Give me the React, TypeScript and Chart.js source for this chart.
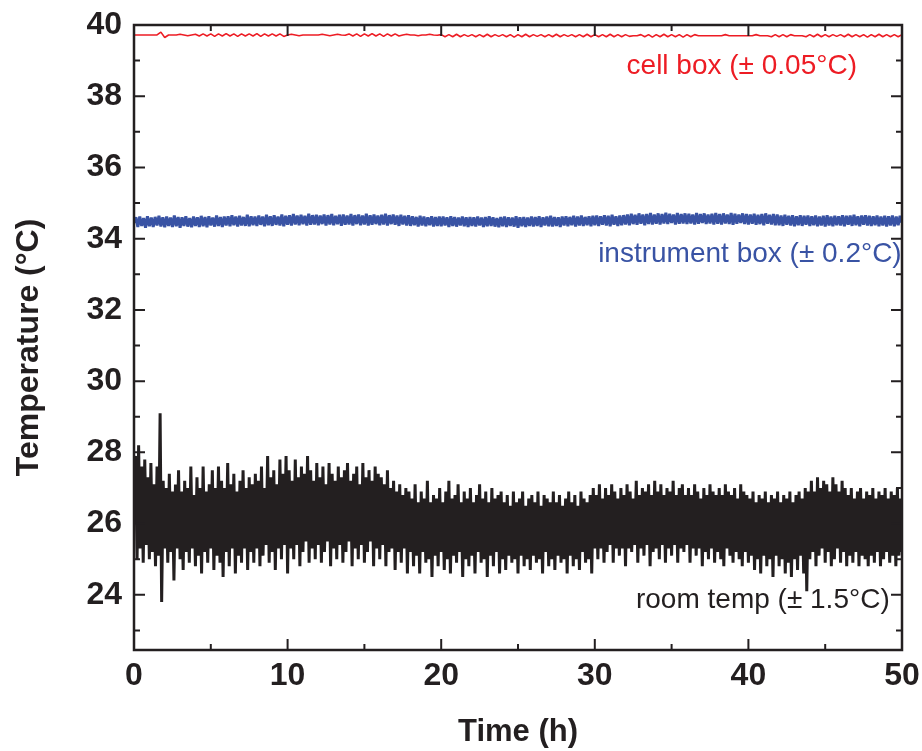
import { useEffect, useRef } from "react";
import { Chart, registerables } from "chart.js";

Chart.register(...registerables);

const INK = "#231f20";
const RED = "#ed1c24";
const BLUE = "#3953a4";
const FONT = "'Liberation Sans', Arial, Helvetica, sans-serif";

const X_MIN = 0;
const X_MAX = 50;
const Y_MIN = 22.45;
const Y_MAX = 40;
const X_MAJOR_TICKS = [0, 10, 20, 30, 40, 50];
const X_MINOR_TICKS = [5, 15, 25, 35, 45];
const Y_MAJOR_TICKS = [24, 26, 28, 30, 32, 34, 36, 38, 40];
const Y_MINOR_TICKS = [23, 25, 27, 29, 31, 33, 35, 37, 39];

// sampling intervals (hours between samples)
const ROOM_STEP_H = 0.1;
const INSTRUMENT_STEP_H = 0.125;
const CELL_STEP_H = 0.25;

// room temperature (°C), one sample every 0.1 h
const ROOM_TEMP = [
  26.2, 27.9, 25.0, 28.2, 25.3, 27.6, 24.9, 27.8, 25.4, 27.3, 25.0, 27.7, 25.2, 27.1, 24.8, 27.6, 25.1, 29.1, 23.8, 27.2,
  25.3, 27.0, 24.9, 27.4, 25.2, 26.9, 24.4, 27.1, 25.3, 27.5, 25.0, 26.9, 24.7, 27.2, 25.2, 27.0, 24.9, 27.6, 25.3, 26.8,
  24.8, 27.3, 25.1, 27.0, 24.6, 27.6, 25.2, 26.9, 24.9, 27.1, 25.3, 27.5, 24.7, 27.0, 25.1, 27.6, 24.9, 27.2, 24.5, 27.0,
  25.2, 27.7, 24.8, 27.1, 25.3, 27.4, 24.6, 26.9, 25.1, 27.2, 24.9, 27.5, 25.3, 27.0, 24.7, 27.3, 25.2, 27.1, 24.9, 27.4,
  25.3, 27.2, 24.8, 27.6, 25.1, 27.0, 25.4, 27.9, 24.9, 27.3, 25.2, 27.5, 24.7, 27.1, 25.3, 27.8, 25.0, 27.4, 25.4, 27.9,
  24.6, 27.5, 25.3, 27.2, 25.0, 27.8, 25.4, 27.3, 24.8, 27.6, 25.2, 27.4, 25.5, 27.9, 24.9, 27.5, 25.3, 27.2, 25.0, 27.7,
  25.4, 27.3, 24.9, 27.6, 25.2, 27.1, 25.5, 27.7, 24.8, 27.4, 25.3, 27.2, 25.0, 27.6, 25.4, 27.3, 24.9, 27.5, 25.2, 27.7,
  25.5, 27.2, 24.8, 27.4, 25.3, 27.6, 25.0, 27.1, 25.4, 27.7, 24.9, 27.3, 25.2, 27.5, 25.5, 27.2, 24.8, 27.6, 25.3, 27.4,
  25.0, 27.3, 25.4, 27.1, 24.8, 27.5, 25.2, 27.0, 25.3, 27.2, 24.7, 26.9, 25.2, 27.1, 24.9, 26.8, 25.3, 27.0, 24.6, 26.9,
  25.2, 26.7, 24.8, 27.1, 25.1, 26.6, 24.6, 26.9, 25.2, 26.7, 24.9, 27.2, 25.0, 26.6, 24.5, 26.8, 25.1, 26.7, 24.8, 27.0,
  25.2, 26.6, 24.7, 26.9, 25.0, 27.2, 24.6, 26.7, 25.1, 26.8, 24.9, 27.1, 25.2, 26.6, 24.5, 26.9, 25.0, 26.7, 24.8, 27.0,
  25.1, 26.6, 24.6, 26.8, 25.2, 27.1, 24.9, 26.7, 25.0, 26.9, 24.5, 26.6, 25.1, 27.0, 24.8, 26.7, 25.2, 26.8, 24.6, 26.9,
  25.0, 26.6, 24.7, 26.8, 25.1, 26.5, 24.9, 26.9, 25.0, 26.6, 24.6, 26.7, 25.1, 26.9, 24.8, 26.5, 25.0, 26.7, 24.7, 26.8,
  25.1, 26.6, 24.9, 26.9, 25.0, 26.5, 24.6, 26.8, 25.2, 26.7, 24.8, 26.6, 25.0, 26.9, 24.7, 26.6, 25.1, 26.8, 24.9, 26.5,
  25.0, 26.7, 24.6, 26.9, 25.1, 26.6, 24.8, 26.8, 25.0, 26.5, 24.7, 26.9, 25.2, 26.7, 24.9, 26.6, 25.0, 26.8, 24.6, 27.0,
  25.3, 26.8, 25.0, 27.1, 25.3, 26.7, 24.9, 27.0, 25.2, 26.8, 25.4, 27.1, 24.9, 26.9, 25.3, 26.7, 25.1, 27.0, 25.3, 26.8,
  24.8, 27.1, 25.3, 26.9, 25.2, 26.7, 25.4, 27.2, 24.9, 26.8, 25.3, 27.0, 25.1, 26.9, 25.4, 27.1, 24.8, 26.8, 25.2, 27.2,
  25.3, 26.9, 25.0, 27.1, 25.4, 26.8, 24.9, 27.0, 25.3, 26.9, 25.1, 27.2, 25.4, 26.8, 24.9, 27.0, 25.3, 27.1, 25.2, 26.8,
  25.4, 27.0, 24.9, 26.8, 25.3, 27.1, 25.1, 26.9, 25.3, 26.7, 24.8, 27.0, 25.2, 26.8, 25.0, 27.1, 25.3, 26.9, 24.9, 26.8,
  25.2, 27.0, 25.0, 26.8, 24.8, 27.1, 25.3, 26.9, 25.1, 26.8, 24.9, 27.0, 25.2, 26.7, 25.0, 27.1, 24.8, 26.9, 25.2, 26.8,
  24.9, 26.7, 25.1, 26.9, 24.7, 26.6, 25.0, 26.8, 24.6, 26.7, 25.1, 26.9, 24.8, 26.6, 25.0, 26.8, 24.5, 26.7, 25.1, 26.9,
  24.8, 26.6, 25.0, 26.8, 24.6, 26.7, 24.9, 26.9, 24.5, 26.6, 25.0, 26.8, 24.7, 26.9, 25.1, 26.7, 24.6, 27.0, 24.1, 26.9,
  25.0, 27.2, 25.2, 26.9, 24.8, 27.3, 25.1, 27.0, 25.3, 27.2, 24.9, 27.1, 25.2, 26.9, 24.8, 27.3, 25.0, 27.1, 25.3, 26.9,
  24.9, 27.2, 25.2, 27.0, 24.8, 26.8, 25.1, 27.0, 24.9, 26.7, 25.2, 26.9, 24.8, 27.0, 25.1, 26.7, 25.0, 26.9, 24.8, 26.8,
  25.1, 27.0, 24.9, 26.7, 25.2, 26.9, 24.8, 26.8, 25.0, 27.0, 25.2, 26.7, 24.9, 26.9, 25.1, 26.8, 24.8, 27.0, 25.1, 26.7,
  25.2,
];

// instrument box temperature (°C), one sample every 0.125 h
const INSTRUMENT_BOX = [
  34.45, 34.60, 34.33, 34.62, 34.36, 34.58, 34.31, 34.63, 34.35, 34.59, 34.33, 34.61, 34.37, 34.64, 34.34, 34.60,
  34.32, 34.62, 34.36, 34.59, 34.33, 34.65, 34.35, 34.61, 34.31, 34.60, 34.36, 34.63, 34.34, 34.58, 34.32, 34.62,
  34.36, 34.60, 34.33, 34.64, 34.35, 34.61, 34.32, 34.63, 34.37, 34.59, 34.34, 34.65, 34.36, 34.61, 34.33, 34.62,
  34.37, 34.63, 34.35, 34.66, 34.38, 34.62, 34.34, 34.64, 34.37, 34.61, 34.36, 34.67, 34.35, 34.63, 34.38, 34.62,
  34.36, 34.65, 34.39, 34.62, 34.35, 34.67, 34.38, 34.63, 34.36, 34.66, 34.39, 34.62, 34.37, 34.68, 34.35, 34.64,
  34.39, 34.66, 34.37, 34.69, 34.40, 34.65, 34.38, 34.67, 34.41, 34.64, 34.37, 34.70, 34.39, 34.66, 34.40, 34.67,
  34.38, 34.65, 34.41, 34.68, 34.37, 34.66, 34.40, 34.69, 34.38, 34.64, 34.41, 34.67, 34.36, 34.68, 34.39, 34.65,
  34.40, 34.69, 34.37, 34.66, 34.41, 34.68, 34.38, 34.65, 34.40, 34.70, 34.37, 34.66, 34.39, 34.68, 34.41, 34.65,
  34.38, 34.67, 34.40, 34.70, 34.37, 34.66, 34.41, 34.68, 34.39, 34.65, 34.36, 34.67, 34.40, 34.64, 34.37, 34.66,
  34.36, 34.63, 34.38, 34.61, 34.34, 34.64, 34.37, 34.62, 34.35, 34.60, 34.38, 34.63, 34.34, 34.61, 34.36, 34.62,
  34.35, 34.62, 34.37, 34.60, 34.33, 34.63, 34.36, 34.61, 34.34, 34.59, 34.37, 34.62, 34.35, 34.60, 34.33, 34.61,
  34.36, 34.60, 34.34, 34.62, 34.37, 34.59, 34.33, 34.61, 34.35, 34.63, 34.36, 34.60, 34.34, 34.58, 34.32, 34.61,
  34.35, 34.62, 34.33, 34.60, 34.36, 34.59, 34.34, 34.63, 34.31, 34.60, 34.35, 34.61, 34.33, 34.59, 34.36, 34.62,
  34.34, 34.61, 34.36, 34.63, 34.33, 34.60, 34.37, 34.62, 34.35, 34.64, 34.34, 34.61, 34.36, 34.60, 34.33, 34.62,
  34.37, 34.63, 34.35, 34.61, 34.38, 34.64, 34.34, 34.62, 34.37, 34.65, 34.36, 34.61, 34.38, 34.63, 34.35, 34.64,
  34.38, 34.65, 34.36, 34.63, 34.39, 34.66, 34.37, 34.64, 34.35, 34.67, 34.39, 34.63, 34.36, 34.65, 34.38, 34.66,
  34.40, 34.68, 34.38, 34.70, 34.41, 34.67, 34.39, 34.71, 34.42, 34.68, 34.38, 34.69, 34.41, 34.72, 34.40, 34.68,
  34.42, 34.71, 34.40, 34.69, 34.43, 34.73, 34.41, 34.70, 34.44, 34.68, 34.40, 34.72, 34.42, 34.69, 34.43, 34.71,
  34.41, 34.70, 34.43, 34.68, 34.40, 34.72, 34.42, 34.69, 34.44, 34.71, 34.41, 34.68, 34.43, 34.70, 34.40, 34.72,
  34.42, 34.69, 34.40, 34.71, 34.43, 34.68, 34.41, 34.72, 34.39, 34.70, 34.42, 34.68, 34.44, 34.71, 34.41, 34.69,
  34.40, 34.68, 34.42, 34.70, 34.39, 34.67, 34.41, 34.69, 34.38, 34.71, 34.42, 34.67, 34.40, 34.69, 34.38, 34.68,
  34.38, 34.65, 34.36, 34.67, 34.39, 34.64, 34.37, 34.66, 34.35, 34.63, 34.38, 34.66, 34.36, 34.64, 34.39, 34.65,
  34.36, 34.63, 34.38, 34.65, 34.35, 34.62, 34.37, 34.64, 34.34, 34.66, 34.37, 34.62, 34.35, 34.64, 34.38, 34.63,
  34.37, 34.66, 34.35, 34.64, 34.39, 34.65, 34.36, 34.67, 34.38, 34.63, 34.35, 34.65, 34.39, 34.66, 34.37, 34.64,
  34.36, 34.63, 34.38, 34.65, 34.35, 34.62, 34.37, 34.64, 34.34, 34.63, 34.37, 34.65, 34.35, 34.62, 34.38, 34.64,
  34.45,
];

// cell box temperature (°C), one sample every 0.25 h
const CELL_BOX = [
  39.72, 39.72, 39.72, 39.72, 39.72, 39.72, 39.72, 39.80, 39.65, 39.72, 39.72, 39.72,
  39.74, 39.72, 39.70, 39.72, 39.74,
  39.69, 39.75, 39.69, 39.75, 39.68, 39.75, 39.69, 39.76, 39.69, 39.75, 39.68, 39.75, 39.69, 39.75, 39.69, 39.76,
  39.68, 39.75, 39.69, 39.75, 39.69, 39.75, 39.68,
  39.72, 39.74, 39.72, 39.70, 39.72, 39.72, 39.72, 39.72,
  39.72, 39.74, 39.72, 39.70, 39.72, 39.74, 39.72, 39.71,
  39.75, 39.69, 39.75, 39.68, 39.75, 39.69, 39.76, 39.69, 39.75, 39.68, 39.75, 39.69, 39.75, 39.69,
  39.72, 39.74, 39.72, 39.72, 39.70, 39.72, 39.72, 39.74, 39.72, 39.71,
  39.73, 39.67, 39.73, 39.67, 39.74, 39.67, 39.73, 39.68, 39.73, 39.67, 39.73, 39.67, 39.74, 39.67, 39.73, 39.68,
  39.73, 39.67, 39.73, 39.66, 39.73, 39.67, 39.74, 39.67, 39.73, 39.68, 39.73, 39.67, 39.73, 39.67, 39.74, 39.67,
  39.73, 39.68, 39.73, 39.67, 39.73, 39.67, 39.74, 39.67, 39.73,
  39.67, 39.73, 39.67, 39.74, 39.67, 39.73, 39.67, 39.73, 39.68,
  39.70, 39.70,
  39.73, 39.67, 39.73, 39.66, 39.73, 39.67, 39.74, 39.67, 39.73, 39.67, 39.73, 39.66, 39.73, 39.67, 39.73,
  39.70, 39.70, 39.70, 39.70, 39.70, 39.70, 39.70, 39.73, 39.70, 39.70, 39.70, 39.70, 39.70, 39.70, 39.70,
  39.73,
  39.70, 39.70, 39.70,
  39.67, 39.73, 39.67, 39.73, 39.67, 39.73,
  39.70, 39.70, 39.70,
  39.67, 39.73, 39.67, 39.74, 39.67, 39.73, 39.67, 39.73, 39.68, 39.73, 39.67, 39.74, 39.67,
  39.73, 39.67, 39.73, 39.66, 39.73, 39.67, 39.74, 39.67, 39.73, 39.67, 39.73, 39.67, 39.73,
];

// series annotations, anchored at their right end / baseline in data units
const SERIES_LABELS = [
  { text: "cell box (\u00b1 0.05\u00b0C)", x: 47.07, y: 38.62, color: RED },
  { text: "instrument box (\u00b1 0.2\u00b0C)", x: 49.98, y: 33.35, color: BLUE },
  { text: "room temp (\u00b1 1.5\u00b0C)", x: 49.2, y: 23.63, color: INK },
];

const X_TITLE = "Time (h)";
const Y_TITLE = "Temperature (\u00b0C)";

function toPoints(values: number[], step: number) {
  return values.map((y, i) => ({ x: i * step, y }));
}

const framePlugin = {
  id: "frameAndLabels",
  afterDatasetsDraw(chart: any) {
    const { ctx, chartArea, scales } = chart;
    const { left, right, top, bottom } = chartArea;
    const xs = scales.x;
    const ys = scales.y;
    ctx.save();
    ctx.strokeStyle = INK;
    ctx.lineWidth = 2;
    ctx.lineCap = "butt";
    ctx.beginPath();
    const xTick = (v: number, len: number) => {
      const p = xs.getPixelForValue(v);
      ctx.moveTo(p, bottom);
      ctx.lineTo(p, bottom - len);
      ctx.moveTo(p, top);
      ctx.lineTo(p, top + len);
    };
    const yTick = (v: number, len: number) => {
      const p = ys.getPixelForValue(v);
      ctx.moveTo(left, p);
      ctx.lineTo(left + len, p);
      ctx.moveTo(right, p);
      ctx.lineTo(right - len, p);
    };
    X_MAJOR_TICKS.forEach((v) => xTick(v, 11));
    X_MINOR_TICKS.forEach((v) => xTick(v, 6));
    Y_MAJOR_TICKS.forEach((v) => yTick(v, 11));
    Y_MINOR_TICKS.forEach((v) => yTick(v, 6));
    ctx.stroke();
    ctx.lineWidth = 2.5;
    ctx.strokeRect(left, top, right - left, bottom - top);

    ctx.font = `28px ${FONT}`;
    ctx.textAlign = "right";
    ctx.textBaseline = "alphabetic";
    SERIES_LABELS.forEach((l) => {
      ctx.fillStyle = l.color;
      ctx.fillText(l.text, xs.getPixelForValue(l.x), ys.getPixelForValue(l.y));
    });

    ctx.translate(38, (top + bottom) / 2 + 10);
    ctx.rotate(-Math.PI / 2);
    ctx.font = `bold 32px ${FONT}`;
    ctx.fillStyle = INK;
    ctx.textAlign = "center";
    ctx.fillText(Y_TITLE, 0, 0);
    ctx.restore();
  },
};

export default function App() {
  const ref = useRef<HTMLCanvasElement | null>(null);
  useEffect(() => {
    document.body.style.margin = "0";
    const canvas = ref.current;
    if (!canvas) return;
    const tickFont = { family: FONT, size: 32, weight: "bold" as const };
    const chart = new Chart(canvas, {
      type: "line",
      data: {
        datasets: [
          {
            label: "room temp",
            data: toPoints(ROOM_TEMP, ROOM_STEP_H),
            borderColor: INK,
            borderWidth: 3,
            pointRadius: 0,
            borderJoinStyle: "bevel",
            tension: 0,
          },
          {
            label: "instrument box",
            data: toPoints(INSTRUMENT_BOX, INSTRUMENT_STEP_H),
            borderColor: BLUE,
            borderWidth: 3,
            pointRadius: 0,
            borderJoinStyle: "bevel",
            tension: 0,
          },
          {
            label: "cell box",
            data: toPoints(CELL_BOX, CELL_STEP_H),
            borderColor: RED,
            borderWidth: 1.6,
            pointRadius: 0,
            borderJoinStyle: "bevel",
            tension: 0,
          },
        ],
      } as any,
      options: {
        responsive: false,
        animation: false,
        devicePixelRatio: 1,
        parsing: false,
        normalized: true,
        events: [],
        layout: { padding: { left: 0, top: 25, right: 20, bottom: 0 } },
        plugins: { legend: { display: false }, tooltip: { enabled: false } },
        scales: {
          x: {
            type: "linear",
            min: X_MIN,
            max: X_MAX,
            afterBuildTicks: (s: any) => {
              s.ticks = X_MAJOR_TICKS.map((v) => ({ value: v }));
            },
            afterFit: (s: any) => {
              s.height = 101;
              s.paddingLeft = 0;
              s.paddingRight = 0;
            },
            grid: { display: false, drawTicks: false },
            border: { display: false },
            ticks: { font: tickFont, color: INK, padding: 7, maxRotation: 0, autoSkip: false },
            title: {
              display: true,
              text: X_TITLE,
              color: INK,
              font: { family: FONT, size: 31, weight: "bold" },
              padding: { top: 0, bottom: 0 },
            },
          },
          y: {
            type: "linear",
            min: Y_MIN,
            max: Y_MAX,
            afterBuildTicks: (s: any) => {
              s.ticks = Y_MAJOR_TICKS.map((v) => ({ value: v }));
            },
            afterFit: (s: any) => {
              s.width = 134;
              s.paddingTop = 0;
              s.paddingBottom = 0;
            },
            grid: { display: false, drawTicks: false },
            border: { display: false },
            ticks: { font: tickFont, color: INK, padding: 12, autoSkip: false },
          },
        },
      } as any,
      plugins: [framePlugin],
    });
    return () => chart.destroy();
  }, []);
  return (
    <div style={{ width: 922, height: 751, background: "#fff" }}>
      <canvas ref={ref} width={922} height={751} style={{ display: "block" }} />
    </div>
  );
}
